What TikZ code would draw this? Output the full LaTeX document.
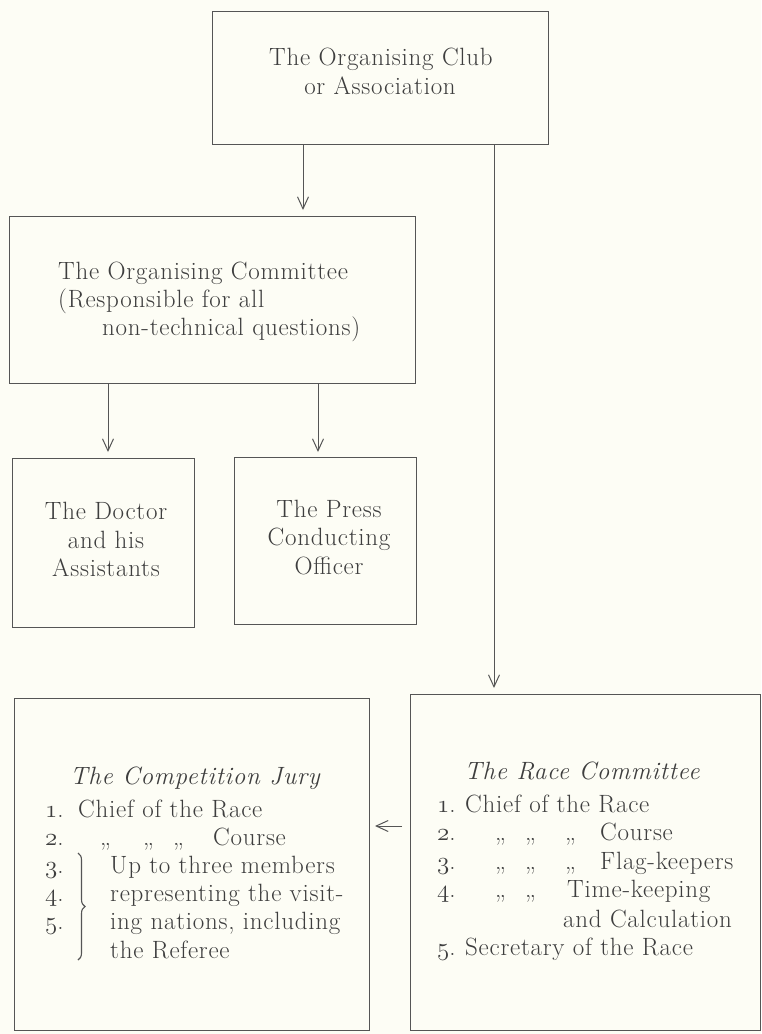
\RequirePackage{fix-cm}
\documentclass[tikz,border=0pt]{standalone}
\usepackage{fontspec}
\setmainfont{Latin Modern Roman}[LetterSpace=3]
\usetikzlibrary{arrows.meta,decorations.pathreplacing}
\definecolor{paper}{RGB}{253,253,245}
\definecolor{ink}{RGB}{62,62,62}
\definecolor{rulec}{RGB}{85,85,85}
\newcommand{\osn}[1]{{\usefont{OML}{cmm}{m}{it}#1}.}
\tikzset{
  box/.style={draw=rulec, line width=1.2pt, inner sep=0pt, anchor=north west},
  txt/.style={text=ink, inner sep=0pt, yshift=-5pt, font=\fontsize{25}{28}\selectfont},
  lft/.style={txt, anchor=mid west},
  ctr/.style={txt, anchor=mid},
  ttl/.style={txt, anchor=mid, font=\fontsize{25}{28}\selectfont\itshape},
  conn/.style={draw=rulec, line width=1pt, -{Straight Barb[length=12pt,width=11pt]}},
  brc/.style={draw=rulec, line width=1.1pt, decorate, decoration={brace, amplitude=7pt}}
}
\begin{document}
\begin{tikzpicture}[x=1pt,y=-1pt]
\fill[paper] (0,0) rectangle (761,1034);
\useasboundingbox (0,0) rectangle (761,1034);
% boxes
\node[box, minimum width=336pt, minimum height=133pt] (club) at (212,11) {};
\node[box, minimum width=406pt, minimum height=167pt] (comm) at (9,216) {};
\node[box, minimum width=182pt, minimum height=169pt] (doc) at (12,458) {};
\node[box, minimum width=182pt, minimum height=167pt] (press) at (234,457) {};
\node[box, minimum width=355pt, minimum height=332pt] (jury) at (14,698) {};
\node[box, minimum width=350pt, minimum height=336pt] (race) at (410,694) {};
% club text
\node[ctr] (clubA) at (381,58) {The Organising Club};
\node[ctr] (clubB) at (380,87) {or Association};
% committee text
\node[lft] (commA) at (58,272) {The Organising Committee};
\node[lft] (commB) at (58,300) {(Responsible for all};
\node[lft] (commC) at (102,328) {non-technical questions)};
% doctor
\node[ctr] (docA) at (106,512) {The Doctor};
\node[ctr] (docB) at (106,541) {and his};
\node[ctr] (docC) at (106,569) {Assistants};
% press
\node[ctr] (prA) at (329,510) {The Press};
\node[ctr] (prB) at (329,538) {Conducting};
\node[ctr] (prC) at (329,567) {Officer};
% jury
\node[ttl] (juT) at (195,777) {The Competition Jury};
\node[lft] (juN1) at (45,810) {\osn{1}};
\node[lft] (juL1) at (78,810) {Chief of the Race};
\node[lft] (juN2) at (45,838) {\osn{2}};
\node[lft] (juD1) at (100,838) {,,};
\node[lft] (juD2) at (143,838) {,,};
\node[lft] (juD3) at (173,838) {,,};
\node[lft] (juL2) at (213,838) {Course};
\node[lft] (juN3) at (45,866) {\osn{3}};
\node[lft] (juN4) at (45,894) {\osn{4}};
\node[lft] (juN5) at (45,922) {\osn{5}};
\node[lft] (juL3) at (110,866) {Up to three members};
\node[lft] (juL4) at (110,894) {representing the visit-};
\node[lft] (juL5) at (110,922) {ing nations, including};
\node[lft] (juL6) at (110,951) {the Referee};
\coordinate (brT) at (78,853);
\coordinate (brB) at (78,960);
\draw[brc] (brT) -- (brB);
% race committee
\node[ttl] (raT) at (582,772) {The Race Committee};
\node[lft] (raN1) at (437,805) {\osn{1}};
\node[lft] (raL1) at (465,805) {Chief of the Race};
\node[lft] (raN2) at (437,833) {\osn{2}};
\node[lft] (raD1) at (495,833) {,,};
\node[lft] (raD2) at (525,833) {,,};
\node[lft] (raD3) at (565,833) {,,};
\node[lft] (raL2) at (600,833) {Course};
\node[lft] (raN3) at (437,862) {\osn{3}};
\node[lft] (raD4) at (495,862) {,,};
\node[lft] (raD5) at (525,862) {,,};
\node[lft] (raD6) at (565,862) {,,};
\node[lft] (raL3) at (600,862) {Flag-keepers};
\node[lft] (raN4) at (437,890) {\osn{4}};
\node[lft] (raD7) at (495,890) {,,};
\node[lft] (raD8) at (525,890) {,,};
\node[lft] (raL4) at (567,890) {Time-keeping};
\node[lft] (raL5) at (563,920) {and Calculation};
\node[lft] (raN5) at (437,948) {\osn{5}};
\node[lft] (raL6) at (465,948) {Secretary of the Race};
% connectors
\coordinate (c1) at (303,210);
\coordinate (c2) at (108,452);
\coordinate (c3) at (318,452);
\coordinate (c4) at (494,688);
\coordinate (c5a) at (402,826);
\coordinate (c5b) at (375,826);
\draw[conn] (club.south -| c1) -- (c1);
\draw[conn] (comm.south -| c2) -- (c2);
\draw[conn] (comm.south -| c3) -- (c3);
\draw[conn] (club.south -| c4) -- (c4);
\draw[conn] (c5a) -- (c5b);
\end{tikzpicture}
\end{document}
